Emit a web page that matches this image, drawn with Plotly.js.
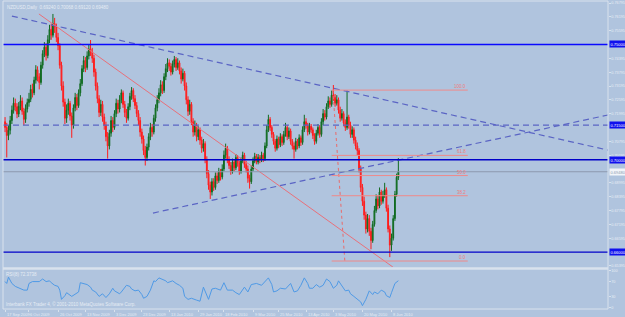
<!DOCTYPE html>
<html><head><meta charset="utf-8">
<script src="https://cdn.plot.ly/plotly-3.0.1.min.js"></script>
<style>html,body{margin:0;padding:0;background:#b0c4de;}#chart{width:625px;height:317px;}</style>
</head><body><div id="chart"></div>
<script>
const openP = [0.7165,0.7140,0.7105,0.7128,0.7170,0.7215,0.7245,0.7230,0.7198,0.7232,
0.7255,0.7210,0.7175,0.7220,0.7248,0.7262,0.7305,0.7290,0.7345,0.7390,
0.7360,0.7335,0.7410,0.7460,0.7488,0.7452,0.7520,0.7565,0.7540,0.7590,
0.7575,0.7530,0.7495,0.7410,0.7320,0.7250,0.7180,0.7215,0.7245,0.7190,
0.7150,0.7225,0.7270,0.7235,0.7290,0.7330,0.7395,0.7430,0.7400,0.7450,
0.7480,0.7465,0.7440,0.7380,0.7320,0.7265,0.7205,0.7240,0.7185,0.7150,
0.7100,0.7060,0.7115,0.7170,0.7140,0.7200,0.7245,0.7220,0.7260,0.7290,
0.7240,0.7205,0.7180,0.7230,0.7275,0.7300,0.7265,0.7235,0.7200,0.7170,
0.7120,0.7090,0.7040,0.7010,0.7055,0.7100,0.7140,0.7120,0.7180,0.7225,
0.7260,0.7290,0.7325,0.7300,0.7360,0.7395,0.7420,0.7405,0.7380,0.7415,
0.7435,0.7400,0.7420,0.7385,0.7350,0.7375,0.7320,0.7260,0.7210,0.7240,
0.7165,0.7120,0.7150,0.7100,0.7130,0.7085,0.7050,0.7070,0.7000,0.6940,
0.6890,0.6860,0.6905,0.6880,0.6930,0.6910,0.6950,0.6925,0.6960,0.7020,
0.7050,0.7000,0.6975,0.6950,0.6990,0.6965,0.7010,0.6985,0.6950,0.6995,
0.7020,0.6980,0.6960,0.6920,0.6905,0.6960,0.6995,0.7015,0.6990,0.7010,
0.7000,0.7020,0.7005,0.7060,0.7130,0.7175,0.7140,0.7110,0.7080,0.7050,
0.7090,0.7065,0.7100,0.7075,0.7110,0.7140,0.7100,0.7125,0.7080,0.7060,
0.7045,0.7080,0.7060,0.7095,0.7075,0.7130,0.7165,0.7150,0.7120,0.7145,
0.7130,0.7105,0.7080,0.7115,0.7140,0.7110,0.7165,0.7200,0.7185,0.7230,
0.7255,0.7240,0.7280,0.7270,0.7245,0.7260,0.7215,0.7180,0.7200,0.7160,
0.7140,0.7185,0.7150,0.7110,0.7130,0.7085,0.7060,0.7040,0.6960,0.6880,
0.6820,0.6760,0.6700,0.6745,0.6690,0.6650,0.6720,0.6780,0.6830,0.6800,
0.6860,0.6820,0.6845,0.6870,0.6790,0.6700,0.6630,0.6660,0.6745,0.6850,
0.6924];
const highP = [0.7185,0.7160,0.7150,0.7190,0.7235,0.7270,0.7265,0.7245,0.7250,0.7280,
0.7270,0.7225,0.7240,0.7265,0.7290,0.7325,0.7330,0.7360,0.7410,0.7405,
0.7375,0.7425,0.7475,0.7510,0.7505,0.7540,0.7585,0.7590,0.7632,0.7615,
0.7590,0.7550,0.7505,0.7425,0.7340,0.7265,0.7240,0.7265,0.7255,0.7205,
0.7240,0.7290,0.7285,0.7305,0.7350,0.7410,0.7450,0.7445,0.7470,0.7500,
0.7519,0.7485,0.7455,0.7395,0.7335,0.7280,0.7260,0.7255,0.7200,0.7165,
0.7120,0.7130,0.7190,0.7185,0.7215,0.7265,0.7260,0.7280,0.7305,0.7300,
0.7255,0.7220,0.7245,0.7290,0.7315,0.7310,0.7280,0.7250,0.7215,0.7185,
0.7135,0.7105,0.7060,0.7070,0.7115,0.7160,0.7155,0.7195,0.7240,0.7280,
0.7310,0.7345,0.7340,0.7375,0.7415,0.7440,0.7435,0.7420,0.7430,0.7450,
0.7445,0.7440,0.7430,0.7400,0.7395,0.7385,0.7335,0.7275,0.7260,0.7250,
0.7180,0.7170,0.7160,0.7145,0.7140,0.7100,0.7090,0.7080,0.7015,0.6955,
0.6905,0.6920,0.6920,0.6945,0.6945,0.6965,0.6960,0.6980,0.7040,0.7070,
0.7060,0.7015,0.6990,0.7005,0.7000,0.7025,0.7020,0.6995,0.7010,0.7035,
0.7030,0.6995,0.6975,0.6935,0.6975,0.7010,0.7030,0.7025,0.7025,0.7020,
0.7035,0.7030,0.7075,0.7150,0.7195,0.7185,0.7150,0.7120,0.7090,0.7105,
0.7100,0.7115,0.7110,0.7125,0.7160,0.7150,0.7140,0.7135,0.7090,0.7075,
0.7095,0.7090,0.7110,0.7105,0.7145,0.7195,0.7180,0.7160,0.7160,0.7155,
0.7140,0.7115,0.7130,0.7155,0.7150,0.7180,0.7220,0.7215,0.7245,0.7275,
0.7270,0.7300,0.7324,0.7285,0.7280,0.7270,0.7230,0.7220,0.7210,0.7175,
0.7300,0.7195,0.7165,0.7145,0.7140,0.7100,0.7075,0.7050,0.6975,0.6895,
0.6840,0.6775,0.6765,0.6760,0.6705,0.6735,0.6800,0.6850,0.6845,0.6880,
0.6870,0.6865,0.6900,0.6880,0.6805,0.6715,0.6680,0.6760,0.6865,0.6940,
0.7007];
const lowP = [0.7120,0.7010,0.7085,0.7110,0.7155,0.7200,0.7210,0.7180,0.7185,0.7215,
0.7195,0.7150,0.7160,0.7205,0.7230,0.7250,0.7270,0.7280,0.7330,0.7340,
0.7305,0.7325,0.7395,0.7445,0.7430,0.7440,0.7505,0.7520,0.7530,0.7550,
0.7510,0.7475,0.7395,0.7300,0.7230,0.7155,0.7160,0.7195,0.7170,0.7095,
0.7135,0.7210,0.7215,0.7225,0.7275,0.7320,0.7380,0.7380,0.7390,0.7435,
0.7450,0.7420,0.7360,0.7300,0.7245,0.7185,0.7190,0.7165,0.7130,0.7080,
0.7005,0.7045,0.7100,0.7120,0.7130,0.7185,0.7200,0.7205,0.7245,0.7225,
0.7185,0.7160,0.7170,0.7215,0.7260,0.7250,0.7220,0.7185,0.7150,0.7100,
0.7070,0.7020,0.6975,0.6995,0.7040,0.7085,0.7100,0.7110,0.7165,0.7210,
0.7245,0.7275,0.7285,0.7290,0.7345,0.7380,0.7385,0.7365,0.7370,0.7400,
0.7385,0.7390,0.7370,0.7330,0.7340,0.7300,0.7240,0.7190,0.7195,0.7150,
0.7100,0.7105,0.7080,0.7085,0.7065,0.7030,0.7035,0.6985,0.6920,0.6870,
0.6830,0.6845,0.6865,0.6870,0.6895,0.6900,0.6910,0.6915,0.6950,0.7005,
0.6985,0.6960,0.6935,0.6940,0.6950,0.6955,0.6970,0.6935,0.6940,0.6985,
0.6965,0.6945,0.6900,0.6875,0.6895,0.6950,0.6985,0.6980,0.6980,0.6985,
0.6990,0.6990,0.6995,0.7050,0.7120,0.7125,0.7095,0.7065,0.7035,0.7040,
0.7050,0.7055,0.7060,0.7065,0.7100,0.7085,0.7090,0.7065,0.7045,0.7005,
0.7035,0.7045,0.7050,0.7060,0.7065,0.7120,0.7135,0.7105,0.7110,0.7115,
0.7090,0.7065,0.7070,0.7105,0.7095,0.7100,0.7150,0.7170,0.7175,0.7220,
0.7225,0.7230,0.7255,0.7230,0.7235,0.7200,0.7165,0.7170,0.7145,0.7125,
0.7130,0.7135,0.7095,0.7095,0.7070,0.7045,0.7020,0.6945,0.6860,0.6800,
0.6740,0.6680,0.6685,0.6670,0.6612,0.6640,0.6710,0.6770,0.6785,0.6790,
0.6805,0.6810,0.6835,0.6775,0.6685,0.6578,0.6605,0.6650,0.6735,0.6840,
0.6912];
const closeP = [0.7140,0.7105,0.7128,0.7170,0.7215,0.7245,0.7230,0.7198,0.7232,0.7255,
0.7210,0.7175,0.7220,0.7248,0.7262,0.7305,0.7290,0.7345,0.7390,0.7360,
0.7335,0.7410,0.7460,0.7488,0.7452,0.7520,0.7565,0.7540,0.7590,0.7575,
0.7530,0.7495,0.7410,0.7320,0.7250,0.7180,0.7215,0.7245,0.7190,0.7150,
0.7225,0.7270,0.7235,0.7290,0.7330,0.7395,0.7430,0.7400,0.7450,0.7480,
0.7465,0.7440,0.7380,0.7320,0.7265,0.7205,0.7240,0.7185,0.7150,0.7100,
0.7060,0.7115,0.7170,0.7140,0.7200,0.7245,0.7220,0.7260,0.7290,0.7240,
0.7205,0.7180,0.7230,0.7275,0.7300,0.7265,0.7235,0.7200,0.7170,0.7120,
0.7090,0.7040,0.7010,0.7055,0.7100,0.7140,0.7120,0.7180,0.7225,0.7260,
0.7290,0.7325,0.7300,0.7360,0.7395,0.7420,0.7405,0.7380,0.7415,0.7435,
0.7400,0.7420,0.7385,0.7350,0.7375,0.7320,0.7260,0.7210,0.7240,0.7165,
0.7120,0.7150,0.7100,0.7130,0.7085,0.7050,0.7070,0.7000,0.6940,0.6890,
0.6860,0.6905,0.6880,0.6930,0.6910,0.6950,0.6925,0.6960,0.7020,0.7050,
0.7000,0.6975,0.6950,0.6990,0.6965,0.7010,0.6985,0.6950,0.6995,0.7020,
0.6980,0.6960,0.6920,0.6905,0.6960,0.6995,0.7015,0.6990,0.7010,0.7000,
0.7020,0.7005,0.7060,0.7130,0.7175,0.7140,0.7110,0.7080,0.7050,0.7090,
0.7065,0.7100,0.7075,0.7110,0.7140,0.7100,0.7125,0.7080,0.7060,0.7045,
0.7080,0.7060,0.7095,0.7075,0.7130,0.7165,0.7150,0.7120,0.7145,0.7130,
0.7105,0.7080,0.7115,0.7140,0.7110,0.7165,0.7200,0.7185,0.7230,0.7255,
0.7240,0.7280,0.7270,0.7245,0.7260,0.7215,0.7180,0.7200,0.7160,0.7140,
0.7185,0.7150,0.7110,0.7130,0.7085,0.7060,0.7040,0.6960,0.6880,0.6820,
0.6760,0.6700,0.6745,0.6690,0.6650,0.6720,0.6780,0.6830,0.6800,0.6860,
0.6820,0.6845,0.6870,0.6790,0.6700,0.6630,0.6660,0.6745,0.6850,0.6924,
0.6948];

const rsiIdx = [0,1,2,4,6,9,11,13,14,16,18,20,22,24,26,27,29,31,32,33,35,36,39,41,43,44,46,48,50,51,53,55,57,59,61,63,64,67,68,71,73,74,76,78,80,81,83,85,87,88,90,92,94,95,98,100,102,104,105,107,109,112,114,116,118,119,121,123,126,128,130,133,135,137,140,142,144,147,150,152,154,156,157,159,161,164,165,167,169,171,173,175,177,178,180,182,184,186,188,190,192,194,195,197,199,201,202,204,206,208,209,211,213,215,216,218,220,222,223,225,226,228,230];
const rsiVal = [70,65,82,65,57,52,47,47,65,70,70,70,77,70,72,67,60,57,47,22,32,40,30,37,42,67,65,62,55,47,42,30,37,27,37,52,45,37,42,60,57,50,45,47,35,25,30,47,72,70,80,77,72,67,72,65,60,52,30,22,25,20,17,55,32,22,50,52,47,67,47,47,40,35,55,42,62,65,60,70,80,62,42,45,52,50,55,65,42,45,60,80,65,52,52,62,55,60,77,70,52,60,72,57,45,47,37,30,22,15,5,22,45,35,42,37,47,42,32,27,40,65,72.37];

const dateIdx = [0,14,31,47,64,80,96,113,128,145,160,176,192,209,226];
const dateLabels = ['17 Sep 2009','6 Oct 2009','26 Oct 2009','13 Nov 2009','3 Dec 2009','23 Dec 2009','13 Jan 2010','29 Jan 2010','18 Feb 2010','9 Mar 2010','25 Mar 2010','13 Apr 2010','3 May 2010','20 May 2010','8 Jun 2010'];
const priceTicks = [0.76795,0.76195,0.75595,0.74395,0.73795,0.73195,0.72595,0.71995,0.70795,0.70195,0.68995,0.68395,0.67795,0.67195,0.66595,0.65395];
const rsiTicks = [0,30,70,100];

const levelPrices = [0.7500, 0.7150, 0.7000, 0.6600];
const levelLabels = ['0.75000','0.71500','0.70000','0.66000'];
const bidPrice = 0.6948;
const bidLabel = '0.69480';

const descLineX = [4, 352.6], descLineY = [0.7623, 0.7042];
const ascLineX = [86.5, 352.6], ascLineY = [0.6769, 0.7194];
const redLineX = [19.8, 226.8], redLineY = [0.7632, 0.6535];
const fibLevels = [0, 38.2, 50, 61.8, 100];
const fibLabels = ['0.0','38.2','50.0','61.8','100.0'];
const fibLowHigh = [0.6561, 0.7302];
const fibDiagX = [191.7, 198.7], fibDiagY = [0.7302, 0.6561];
const fibSpanX = [191, 270.6];

const headerText = 'NZDUSD,Daily  0.69240 0.70068 0.69120 0.69480';
const rsiLabel = 'RSI(8) 72.3738';
const brokerText = 'Interbank FX Trader 4, © 2001-2010 MetaQuotes Software Corp.';

const bars = closeP.map((_, i) => i);
const BG = '#b0c4de', TXT = '#e6ecf4', FRAME = '#d9e2ed';
const FF = 'Liberation Sans, DejaVu Sans, sans-serif';

const traces = [];
traces.push({type:'candlestick', x:bars, open:openP, high:highP, low:lowP, close:closeP,
  xaxis:'x', yaxis:'y', whiskerwidth:0, hoverinfo:'skip',
  increasing:{line:{color:'#106a20', width:1}, fillcolor:'#1f8a32'},
  decreasing:{line:{color:'#ff1c1c', width:1}, fillcolor:'#ff3c3c'}});
traces.push({type:'scatter', mode:'lines', x:descLineX, y:descLineY, xaxis:'x', yaxis:'y',
  line:{color:'#5a64c4', width:1.2, dash:'6px,4px'}, hoverinfo:'skip'});
traces.push({type:'scatter', mode:'lines', x:ascLineX, y:ascLineY, xaxis:'x', yaxis:'y',
  line:{color:'#5a64c4', width:1.2, dash:'6px,4px'}, hoverinfo:'skip'});
traces.push({type:'scatter', mode:'lines', x:redLineX, y:redLineY, xaxis:'x', yaxis:'y',
  line:{color:'#e8707a', width:1}, hoverinfo:'skip'});
traces.push({type:'scatter', mode:'lines', x:fibDiagX, y:fibDiagY, xaxis:'x', yaxis:'y',
  line:{color:'#ea6a6a', width:1, dash:'dot'}, hoverinfo:'skip'});
fibLevels.forEach(lv => {
  const p = fibLowHigh[0] + lv / 100 * (fibLowHigh[1] - fibLowHigh[0]);
  traces.push({type:'scatter', mode:'lines', x:fibSpanX, y:[p, p], xaxis:'x', yaxis:'y',
    line:{color:'#ef8a8a', width:1}, hoverinfo:'skip'});
});
traces.push({type:'scatter', mode:'lines', x:rsiIdx, y:rsiVal, xaxis:'x', yaxis:'y2',
  line:{color:'#4f9ae6', width:1}, hoverinfo:'skip'});

const levelStyles = [
  {color:'#0a0aff', width:1.5, dash:'solid'},
  {color:'#5a64c4', width:1.2, dash:'6px,4px'},
  {color:'#0000c8', width:1.3, dash:'solid'},
  {color:'#0000c8', width:1.3, dash:'solid'}];
const shapes = [];
levelPrices.forEach((p, k) => shapes.push({type:'line', xref:'paper', x0:0, x1:1, yref:'y', y0:p, y1:p, line:levelStyles[k]}));
shapes.push({type:'line', xref:'paper', x0:0, x1:1, yref:'y', y0:bidPrice, y1:bidPrice, line:{color:'#8c98ae', width:1}});
shapes.push({type:'rect', xref:'paper', yref:'paper', x0:0, x1:1, y0:0, y1:1, line:{color:FRAME, width:1}});
shapes.push({type:'line', xref:'paper', yref:'paper', x0:0, x1:1, y0:0.1315, y1:0.1315, line:{color:FRAME, width:2.5}});

const annotations = [];
levelPrices.forEach((p, k) => annotations.push({xref:'paper', x:1, xanchor:'left', xshift:1, yref:'y', y:p, yanchor:'middle',
  text:levelLabels[k], showarrow:false, bgcolor:'#1010ee', borderpad:0.5, font:{family:FF, size:4, color:'#ffffff'}}));
annotations.push({xref:'paper', x:1, xanchor:'left', xshift:1, yref:'y', y:bidPrice, yanchor:'middle',
  text:bidLabel, showarrow:false, bgcolor:'#f2f5f9', borderpad:0.5, font:{family:FF, size:4, color:'#8a9ab0'}});
fibLevels.forEach((lv, k) => {
  const p = fibLowHigh[0] + lv / 100 * (fibLowHigh[1] - fibLowHigh[0]);
  annotations.push({xref:'x', x:fibSpanX[1], xanchor:'right', yref:'y', y:p, yanchor:'bottom',
    text:fibLabels[k], showarrow:false, font:{family:FF, size:4.5, color:'#ef7c7c'}, yshift:-1});
});
dateIdx.forEach((d, k) => annotations.push({xref:'x', x:d, xanchor:'left', xshift:0.5, yref:'paper', y:0, yanchor:'top', yshift:-1.5,
  text:dateLabels[k], showarrow:false, borderpad:0, font:{family:FF, size:4, color:TXT}}));
annotations.push({xref:'paper', x:0, xanchor:'left', xshift:2, yref:'paper', y:1, yanchor:'top', yshift:-2,
  text:headerText, showarrow:false, font:{family:FF, size:4.5, color:TXT}});
annotations.push({xref:'paper', x:0, xanchor:'left', xshift:1, yref:'paper', y:0.1266, yanchor:'top', yshift:0,
  text:rsiLabel, showarrow:false, font:{family:FF, size:4.5, color:TXT}});
annotations.push({xref:'paper', x:0, xanchor:'left', xshift:1, yref:'paper', y:0, yanchor:'bottom', yshift:0,
  text:brokerText, showarrow:false, font:{family:FF, size:4.5, color:TXT}});

const layout = {
  width:625, height:317, margin:{l:3, r:17, t:1, b:8, pad:0},
  paper_bgcolor:BG, plot_bgcolor:BG, showlegend:false,
  font:{family:FF, size:4, color:TXT},
  xaxis:{range:[-1.2, 352.6], anchor:'y2', rangeslider:{visible:false}, showgrid:false, zeroline:false,
    tickmode:'array', tickvals:dateIdx, showticklabels:false,
    ticks:'outside', ticklen:1.5, tickcolor:FRAME, showline:false, fixedrange:true},
  yaxis:{domain:[0.13636, 1], range:[0.65351, 0.76882], side:'right', anchor:'x', showgrid:false, zeroline:false,
    tickmode:'array', tickvals:priceTicks, ticktext:priceTicks.map(v => v.toFixed(5)),
    ticks:'outside', ticklen:1.5, tickcolor:FRAME, tickfont:{family:FF, size:3.8, color:TXT}, showline:false, fixedrange:true},
  yaxis2:{domain:[0, 0.1299], range:[-4, 104], side:'right', anchor:'x', showgrid:false, zeroline:false,
    tickmode:'array', tickvals:rsiTicks, ticktext:rsiTicks.map(String),
    ticks:'outside', ticklen:1.5, tickcolor:FRAME, tickfont:{family:FF, size:3.8, color:TXT}, showline:false, fixedrange:true},
  shapes:shapes, annotations:annotations
};
Plotly.newPlot('chart', traces, layout, {staticPlot:true, displayModeBar:false});
</script>
</body></html>
